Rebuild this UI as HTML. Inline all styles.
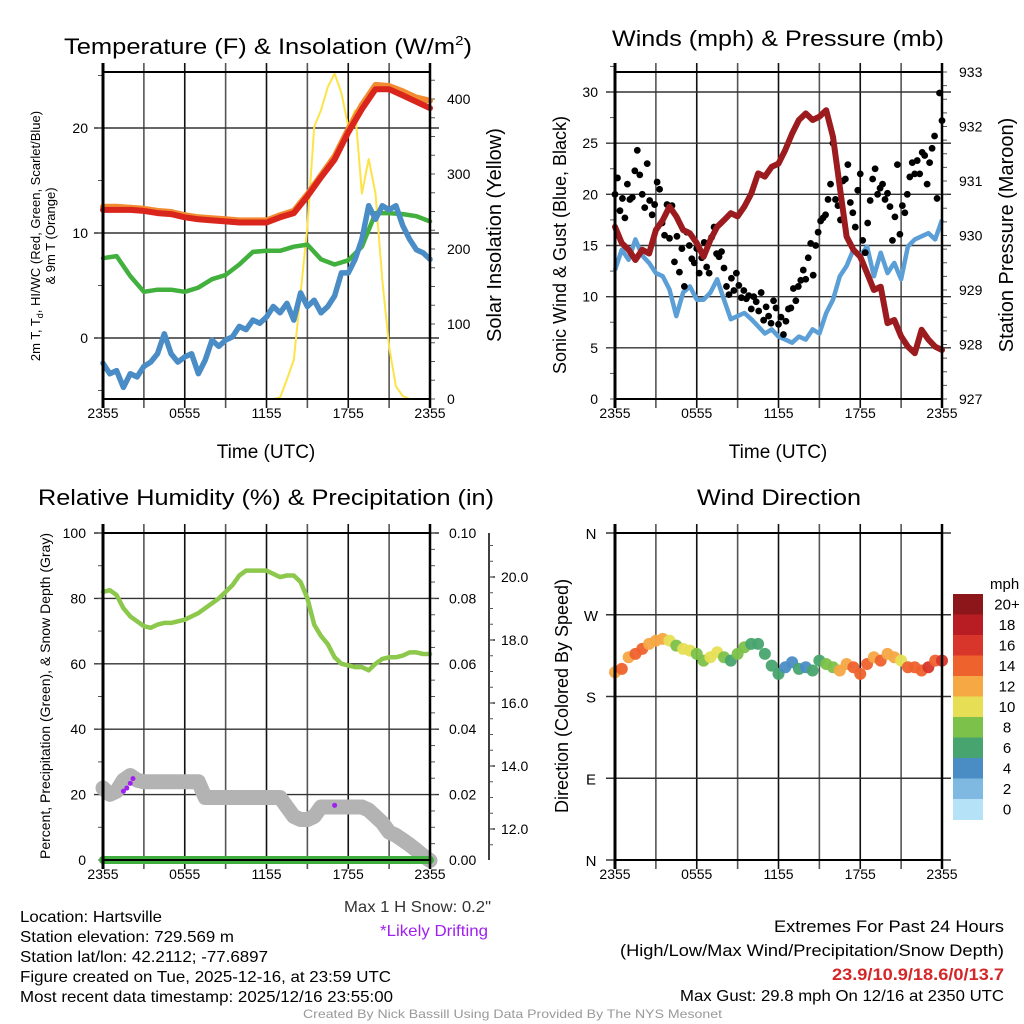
<!DOCTYPE html>
<html><head><meta charset="utf-8"><style>
html,body{margin:0;padding:0;background:#fff;}
svg{display:block;font-family:"Liberation Sans",sans-serif;}
</style></head><body>
<svg id="fig" width="1024" height="1024" viewBox="0 0 1024 1024" xmlns="http://www.w3.org/2000/svg">
<g id="static">
<text x="64" y="54" font-size="22" textLength="408" lengthAdjust="spacingAndGlyphs">Temperature (F) &amp; Insolation (W/m<tspan dy="-9" font-size="13">2</tspan><tspan dy="9">)</tspan></text>
<text x="612" y="46" font-size="22" textLength="332" lengthAdjust="spacingAndGlyphs">Winds (mph) &amp; Pressure (mb)</text>
<text x="38" y="505" font-size="22" textLength="456" lengthAdjust="spacingAndGlyphs">Relative Humidity (%) &amp; Precipitation (in)</text>
<text x="697" y="505" font-size="22" textLength="164" lengthAdjust="spacingAndGlyphs">Wind Direction</text>

<text x="266" y="458" font-size="19" text-anchor="middle">Time (UTC)</text>
<text x="778" y="458" font-size="19" text-anchor="middle">Time (UTC)</text>

<text transform="translate(40,236) rotate(-90)" font-size="13" text-anchor="middle">2m T, T<tspan dy="3" font-size="9">d</tspan><tspan dy="-3">, HI/WC (Red, Green, Scarlet/Blue)</tspan></text>
<text transform="translate(55,236) rotate(-90)" font-size="13" text-anchor="middle">&amp; 9m T (Orange)</text>
<text transform="translate(501,235) rotate(-90)" font-size="20" text-anchor="middle">Solar Insolation (Yellow)</text>
<text transform="translate(566,245) rotate(-90)" font-size="18" text-anchor="middle">Sonic Wind &amp; Gust (Blue, Black)</text>
<text transform="translate(1013,235) rotate(-90)" font-size="20" text-anchor="middle">Station Pressure (Maroon)</text>
<text transform="translate(50,696) rotate(-90)" font-size="14" text-anchor="middle">Percent, Precipitation (Green), &amp; Snow Depth (Gray)</text>
<text transform="translate(568,696) rotate(-90)" font-size="18" text-anchor="middle">Direction (Colored By Speed)</text>

<text x="20" y="922" font-size="16" textLength="142" lengthAdjust="spacingAndGlyphs">Location: Hartsville</text>
<text x="20" y="942" font-size="16" textLength="214" lengthAdjust="spacingAndGlyphs">Station elevation: 729.569 m</text>
<text x="20" y="962" font-size="16" textLength="248" lengthAdjust="spacingAndGlyphs">Station lat/lon: 42.2112; -77.6897</text>
<text x="20" y="982" font-size="16" textLength="371" lengthAdjust="spacingAndGlyphs">Figure created on Tue, 2025-12-16, at 23:59 UTC</text>
<text x="20" y="1002" font-size="16" textLength="373" lengthAdjust="spacingAndGlyphs">Most recent data timestamp: 2025/12/16 23:55:00</text>
<text x="344" y="912" font-size="16" fill="#333" textLength="147" lengthAdjust="spacingAndGlyphs">Max 1 H Snow: 0.2"</text>
<text x="380" y="936" font-size="16" fill="#a020f0" textLength="108" lengthAdjust="spacingAndGlyphs">*Likely Drifting</text>
<text x="774" y="932" font-size="17" textLength="230" lengthAdjust="spacingAndGlyphs">Extremes For Past 24 Hours</text>
<text x="620" y="956" font-size="17" textLength="384" lengthAdjust="spacingAndGlyphs">(High/Low/Max Wind/Precipitation/Snow Depth)</text>
<text x="832" y="980" font-size="17" font-weight="bold" fill="#d62728" textLength="172" lengthAdjust="spacingAndGlyphs">23.9/10.9/18.6/0/13.7</text>
<text x="680" y="1001" font-size="16" textLength="324" lengthAdjust="spacingAndGlyphs">Max Gust: 29.8 mph On 12/16 at 2350 UTC</text>
<text x="303" y="1018" font-size="12" fill="#999" textLength="419" lengthAdjust="spacingAndGlyphs">Created By Nick Bassill Using Data Provided By The NYS Mesonet</text>
</g>
</svg>
<script>
// ---------- data ----------
const xTickLabels = ["2355","0555","1155","1755","2355"];
const airTemp = [12.2,12.2,12.2,12.1,11.9,11.8,11.5,11.3,11.2,11.1,11.0,11.0,11.0,11.5,11.9,13.5,15.3,17.0,19.6,21.8,23.7,23.7,23.1,22.5,21.9];
const temp9m = [12.5,12.5,12.4,12.3,12.1,12.0,11.7,11.5,11.4,11.3,11.2,11.2,11.2,11.7,12.1,13.7,15.5,17.3,19.9,22.2,24.1,24.0,23.5,22.9,22.6];
const windChill = [7.6,7.8,5.9,4.4,4.6,4.6,4.4,4.8,5.6,6.0,7.0,8.2,8.3,8.3,8.7,8.9,7.5,7.0,7.4,8.7,11.9,11.9,11.8,11.6,11.1];
const dewPoint = [-2.4,-3.4,-3.1,-4.7,-3.4,-3.7,-2.7,-2.3,-1.5,0.4,-1.5,-2.3,-1.8,-1.5,-3.4,-2.1,-0.2,-0.8,-0.2,0.1,1.1,0.8,1.7,1.4,2.0,3.0,2.4,3.3,1.7,4.3,3.0,3.6,2.4,3.0,4.0,6.2,6.2,7.5,9.4,12.6,11.3,12.6,12.2,12.6,10.7,9.4,8.4,8.1,7.5];
const solar = [0,0,0,0,0,0,0,0,0,0,0,0,0,0,0,0,0,0,0,0,0,0,0,0,0,0,2,26,52,141,230,363,385,416,434,408,363,385,274,320,274,159,70,17,4,0,0,0,0];
const tempTicks = [0,10,20];
const solarTicks = [0,100,200,300,400];

const windSpeed = [12.6,14.6,13.6,15.6,14.0,13.3,12.3,12.0,10.7,8.1,10.4,11.0,9.7,9.7,10.4,11.7,9.7,7.8,8.1,8.4,7.8,7.1,6.4,6.8,6.1,5.8,5.5,6.1,5.8,6.8,6.4,8.4,9.7,12.0,13.0,14.6,14.0,14.9,12.0,14.3,12.3,13.3,11.7,14.9,15.6,15.9,16.2,15.6,17.5];
const windGust = [20.0,21.6,18.4,19.6,17.7,21.0,19.5,19.7,22.3,24.3,21.9,20.0,18.7,23.0,19.4,18.0,19.0,21.2,20.5,17.2,16.0,19.0,15.7,18.9,13.4,15.9,12.4,14.7,11.0,16.3,15.0,13.7,13.3,14.7,12.3,13.8,15.3,12.9,12.3,15.8,16.8,14.2,13.9,14.4,12.8,11.0,10.2,11.8,10.6,12.3,11.1,9.9,10.6,9.8,10.1,8.8,10.0,9.5,8.6,10.4,7.7,9.0,8.1,7.4,9.6,8.9,7.3,8.0,6.3,7.6,8.8,8.9,10.8,9.6,11.0,11.6,12.6,11.7,13.8,15.2,12.1,15.0,16.3,17.4,17.7,18.0,19.5,21.0,25.0,19.5,18.9,17.5,21.3,21.5,22.9,19.2,18.2,16.8,20.4,22.0,15.5,14.3,17.2,19.4,21.5,22.5,20.0,20.6,21.0,19.5,20.1,18.8,15.5,17.8,22.9,16.1,18.9,18.2,20.0,21.7,23.1,22.0,23.3,22.0,24.1,23.8,21.0,23.1,24.5,25.7,19.6,29.9,27.2];
const pressure = [930.16,929.86,929.74,929.55,929.74,929.67,930.1,930.28,930.53,930.35,930.1,930.04,929.86,929.61,929.92,930.16,930.28,930.41,930.35,930.53,930.77,931.14,931.08,931.26,931.32,931.57,931.87,932.12,932.24,932.12,932.18,932.3,931.81,930.89,929.98,929.74,929.61,929.31,929.0,929.06,928.39,928.45,928.15,927.96,927.84,928.27,928.09,927.96,927.9];
const windTicks = [0,5,10,15,20,25,30];
const pressTicks = [927,928,929,930,931,932,933];

const humidity = [82,82.5,81,77,74.5,73,71.5,71,72,72.5,72.5,73,73.5,74.5,75.5,77,78.5,80,82,84,87,88.5,88.5,88.5,88.5,87.5,86.5,87,87,85,80,72,68.5,66,62,60,59.5,59,59,58,60,61.5,62,62,62.5,63.5,63.5,63,63];
const snowDepth = [13.3,13.1,13.2,13.55,13.7,13.55,13.5,13.5,13.5,13.5,13.5,13.5,13.5,13.5,13.5,13.0,13.0,13.0,13.0,13.0,13.0,13.0,13.0,13.0,13.0,13.0,13.0,12.7,12.4,12.3,12.3,12.4,12.7,12.7,12.7,12.7,12.7,12.7,12.7,12.6,12.4,12.2,11.9,11.8,11.65,11.5,11.33,11.15,11.0];
const precip = [0,0,0,0,0,0,0,0,0,0,0,0,0,0,0,0,0,0,0,0,0,0,0,0,0];
const driftHours = [1.5,1.75,2.0,2.2,17.0];
const driftDepth = [13.2,13.3,13.45,13.6,12.75];
const rhTicks = [0,20,40,60,80,100];
const precipTicks = ["0.00","0.02","0.04","0.06","0.08","0.10"];
const snowTicks = [12,14,16,18,20];

const windDir = [206.7,210.4,223.2,226.9,232.4,237.9,241.5,243.4,241.5,236,232.4,230.5,226.9,219.5,223.2,228.7,223.2,219.5,226.9,234.2,237.9,237.9,226.9,214,204.9,212.2,217.7,210.4,212.2,208.6,219.5,215.8,212.2,208.6,215.8,212.2,204.9,215.8,223.2,219.5,226.9,223.2,219.5,212.2,212.2,208.6,212.2,219.5,219.5];
const dirLabels = ["N","E","S","W","N"];
const speedBins = ["0","2","4","6","8","10","12","14","16","18","20+"];
const binColors = ["#b5e2f7","#7fb9e2","#4a8dc5","#48a46f","#7cc14a","#e6df55","#f6a844","#ee622d","#d9362b","#b81d24","#8c1619"];

// ---------- helpers ----------
const NS = "http://www.w3.org/2000/svg";
const svg = document.getElementById("fig");
function mk(tag, attrs, parent) {
  const e = document.createElementNS(NS, tag);
  for (const k in attrs) e.setAttribute(k, attrs[k]);
  (parent || svg).appendChild(e);
  return e;
}
const P = {
  tl:{x0:103,x1:430,y0:72,y1:399},
  tr:{x0:615,x1:942,y0:72,y1:399},
  bl:{x0:103,x1:430,y0:533,y1:860},
  br:{x0:615,x1:942,y0:533,y1:860}
};
function xs(p, h){ return p.x0 + (p.x1 - p.x0) * h / 24; }
function lin(d0,d1,r0,r1){ return v => r0 + (v - d0) * (r1 - r0) / (d1 - d0); }
function hourOf(i, n){ return i * 24 / (n - 1); }
function pathFrom(arr, p, ys){
  return arr.map((v,i)=>(i?"L":"M")+xs(p,hourOf(i,arr.length)).toFixed(1)+","+ys(v).toFixed(1)).join(" ");
}
function frame(p, name){
  const g = mk("g", {});
  
  
  for (let k = 0; k <= 8; k++) {
    const x = p.x0 + (p.x1 - p.x0) * k / 8;
    const l = mk("line", {x1:x, x2:x, y1:p.y0-9, y2:p.y1+9, stroke:(k%2? "#555":"#111"), "stroke-width":1.6}, g);
    
    
  }
  xTickLabels.forEach((t,k)=>{
    const tx = mk("text", {x:p.x0 + (p.x1-p.x0)*k/4, y:p.y1+19, "font-size":14, "text-anchor":"middle"});
    tx.textContent = t;
    
    
  });
  return g;
}
function hgrid(g, p, y){
  const l = mk("line", {x1:p.x0-9, x2:p.x1+9, y1:y, y2:y, stroke:"#333", "stroke-width":1.4}, g);
  
  
}
function border(p, name){
  const r = mk("rect", {x:p.x0, y:p.y0, width:p.x1-p.x0, height:p.y1-p.y0, fill:"none", stroke:"#000", "stroke-width":2});
  
  
  mk("line", {x1:p.x0, x2:p.x0, y1:p.y0-9, y2:p.y1+9, stroke:"#000", "stroke-width":3});
  mk("line", {x1:p.x1, x2:p.x1, y1:p.y0-9, y2:p.y1+9, stroke:"#000", "stroke-width":2.5});
}
function label(x,y,txt,anchor,size,name){
  const t = mk("text", {x:x, y:y, "font-size":size||14, "text-anchor":anchor||"start"});
  t.textContent = txt;
  
  
  return t;
}
function minorTicks(x, side, yA, yB, n){
  for (let k = 0; k <= n; k++) {
    const y = yA + (yB - yA) * k / n;
    mk("line", {x1:x, x2:x + side*5, y1:y, y2:y, stroke:"#555", "stroke-width":1});
  }
}

// ---------- panel 1: temperature ----------
(function(){
  const p = P.tl;
  const yT = lin(0,10,338,233);
  const yS = lin(0,400,399,99);
  const g = frame(p, "temperature");
  tempTicks.forEach(v=>{ hgrid(g,p,yT(v)); label(88,yT(v)+5,String(v),"end",14,"y-tick-label"); });
  solarTicks.forEach(v=>{ label(447,yS(v)+5,String(v),"start",14,"solar-tick-label"); });
  minorTicks(p.x0, -1, yT(-5), yT(25), 6);
  minorTicks(p.x1, 1, yS(0), yS(425), 17);
  const ys = [
    [solar, yS, "#fde34a", 2, "solar-line"],
    [temp9m, yT, "#f28b30", 6, "temp-9m-line"],
    [airTemp, yT, "#d9251c", 6, "air-temp-line"],
    [windChill, yT, "#41b03c", 4.5, "wind-chill-line"],
    [dewPoint, yT, "#4a8cc6", 5.5, "dewpoint-line"]
  ];
  ys.forEach(s=>{
    const e = mk("path", {d:pathFrom(s[0],p,s[1]), fill:"none", stroke:s[2], "stroke-width":s[3], "stroke-linejoin":"round", "stroke-linecap":"round"});
    
    
  });
  border(p, "temperature");
})();

// ---------- panel 2: winds ----------
(function(){
  const p = P.tr;
  const yW = lin(0,30,399,92);
  const yP = lin(927,933,399,72);
  const g = frame(p, "winds");
  windTicks.forEach(v=>{ if(v>0) hgrid(g,p,yW(v)); label(598,yW(v)+5,String(v),"end",14,"wind-tick-label"); });
  pressTicks.forEach(v=>{ label(959,yP(v)+5,String(v),"start",14,"pressure-tick-label"); });
  minorTicks(p.x0, -1, yW(0), yW(32.5), 13);
  minorTicks(p.x1, 1, yP(927), yP(933), 24);
  const ws = mk("path", {d:pathFrom(windSpeed,p,yW), fill:"none", stroke:"#5c9fd6", "stroke-width":4.5, "stroke-linejoin":"round"});
  
  
  const gg = mk("g", {});
  
  
  windGust.forEach((v,i)=>{
    const c = mk("circle", {cx:xs(p,hourOf(i,windGust.length)), cy:yW(v), r:3.4, fill:"#000"}, gg);
    
    
  });
  const pr = mk("path", {d:pathFrom(pressure,p,yP), fill:"none", stroke:"#9b1b1e", "stroke-width":6, "stroke-linejoin":"round", "stroke-linecap":"round"});
  
  
  border(p, "winds");
})();

// ---------- panel 3: humidity ----------
(function(){
  const p = P.bl;
  const yR = lin(0,100,860,533);
  const yPr = lin(0,0.1,860,533);
  const yS = lin(12,20,829,577);
  const g = frame(p, "humidity");
  rhTicks.forEach(v=>{ if(v>0 && v<100) hgrid(g,p,yR(v)); label(86,yR(v)+5,String(v),"end",14,"rh-tick-label"); });
  hgrid(g,p,yR(100));
  precipTicks.forEach((t,k)=>{ label(449,yR(k*20)+5,t,"start",14,"precip-tick-label"); });
  minorTicks(p.x0, -1, yR(0), yR(100), 10);
  minorTicks(p.x1, 1, yR(0), yR(100), 20);
  const ax = mk("line", {x1:489, x2:489, y1:533, y2:860, stroke:"#000", "stroke-width":1.5});
  
  
  snowTicks.forEach(v=>{
    mk("line", {x1:489, x2:495, y1:yS(v), y2:yS(v), stroke:"#000", "stroke-width":1.2});
    label(501,yS(v)+5,v.toFixed(1),"start",14,"snow-tick-label");
  });
  for (let v = 11; v <= 21; v += 0.5) {
    if (yS(v) >= 533 && yS(v) <= 860) mk("line", {x1:489, x2:493, y1:yS(v), y2:yS(v), stroke:"#555", "stroke-width":1});
  }
  const sd = mk("path", {d:pathFrom(snowDepth,p,yS), fill:"none", stroke:"#b3b3b3", "stroke-width":15, "stroke-linejoin":"round", "stroke-linecap":"round"});
  
  
  driftHours.forEach((h,i)=>{
    const c = mk("circle", {cx:xs(p,h), cy:yS(driftDepth[i]), r:2.5, fill:"#a020f0"});
    
    
  });
  const pc = mk("path", {d:pathFrom(precip,p,yPr), fill:"none", stroke:"#3fae3f", "stroke-width":8, "stroke-linecap":"round"});
  
  
  const rh = mk("path", {d:pathFrom(humidity,p,yR), fill:"none", stroke:"#8cc84b", "stroke-width":4.5, "stroke-linejoin":"round", "stroke-linecap":"round"});
  
  
  border(p, "humidity");
})();

// ---------- panel 4: wind direction ----------
(function(){
  const p = P.br;
  const yD = lin(0,360,860,533);
  const g = frame(p, "direction");
  dirLabels.forEach((t,k)=>{ hgrid(g,p,yD(k*90)); label(591,yD(k*90)+6,t,"middle",15,"direction-tick-label"); });
  function colorFor(v){ let b = Math.min(10, Math.max(0, Math.floor(v/2))); return binColors[b]; }
  const gg = mk("g", {});
  
  
  windDir.forEach((d,i)=>{
    const c = mk("circle", {cx:xs(p,hourOf(i,windDir.length)), cy:yD(d), r:6, fill:colorFor(windSpeed[i]), "fill-opacity":0.95}, gg);
    
    
  });
  border(p, "direction");
  // colorbar
  const cb = mk("g", {});
  
  
  const top = 594, bh = 20.5;
  label(990,589,"mph","start",15,"colorbar-title");
  for (let k = 0; k < speedBins.length; k++) {
    const idx = speedBins.length - 1 - k;
    const r = mk("rect", {x:953, y:top + k*bh, width:30, height:bh+0.5, fill:binColors[idx]}, cb);
    
    
    label(1007, top + k*bh + bh/2 + 5, speedBins[idx], "middle", 15, "colorbar-label");
  }
})();
</script>
</body></html>
